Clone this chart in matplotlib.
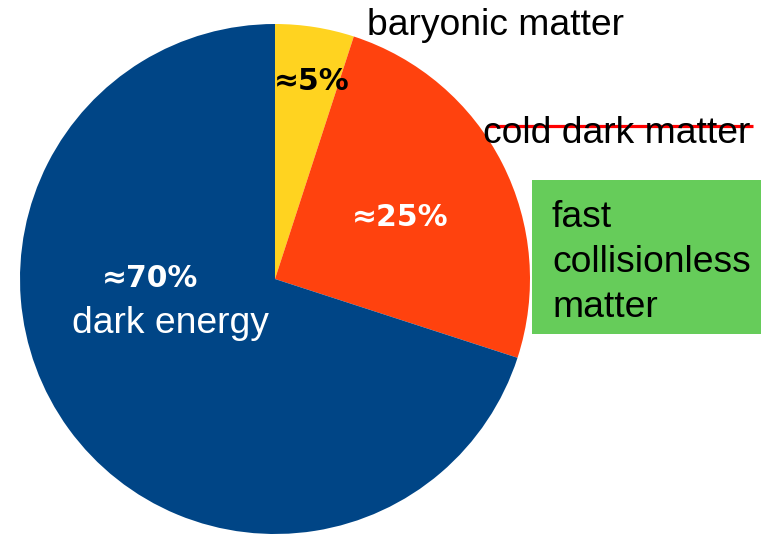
import matplotlib
matplotlib.use("Agg")
import matplotlib.pyplot as plt
from matplotlib.patches import Rectangle

# Composition of the universe
shares = [5, 25, 70]
share_labels = ["≈5%", "≈25%", "≈70%"]
colors = ["#FFD320", "#FF420E", "#004586"]
box_lines = ["fast", "collisionless", "matter"]

W, H = 761, 534
fig = plt.figure(figsize=(W / 100, H / 100), dpi=100)
ax = fig.add_axes([0, 0, 1, 1])

cx, cy, r = 275, H - 279, 255
ax.pie(shares, colors=colors, startangle=90, counterclock=False,
       center=(cx, cy), radius=r, frame=True,
       wedgeprops=dict(linewidth=0))
ax.set_xlim(0, W)
ax.set_ylim(0, H)
ax.set_aspect("equal")
ax.axis("off")

bold = dict(family="DejaVu Sans", weight="bold", fontsize=21.5)
reg = dict(family="Liberation Sans", fontsize=26.8)

ax.text(312, H - 90, share_labels[0], color="black", ha="center", va="baseline", **bold)
ax.text(400, H - 226, share_labels[1], color="white", ha="center", va="baseline", **bold)
ax.text(150, H - 287, share_labels[2], color="white", ha="center", va="baseline", **bold)
ax.text(170, H - 333, "dark energy", color="white", ha="center", va="baseline", **reg)

ax.text(367, H - 35, "baryonic matter", color="black", ha="left", va="baseline", **reg)
ax.text(483, H - 143, "cold dark matter", color="black", ha="left", va="baseline", **reg)
ax.plot([487, 753], [H - 126, H - 126], color="#FF0000", linewidth=2.3, solid_capstyle="butt")

ax.add_patch(Rectangle((532, H - 334), 235, 154, facecolor="#66CC5A", edgecolor="none"))
for i, line in enumerate(box_lines):
    ax.text(552, H - 227 - 45 * i, line, color="black", ha="left", va="baseline", **reg)

fig.savefig("out.png", dpi=100)
